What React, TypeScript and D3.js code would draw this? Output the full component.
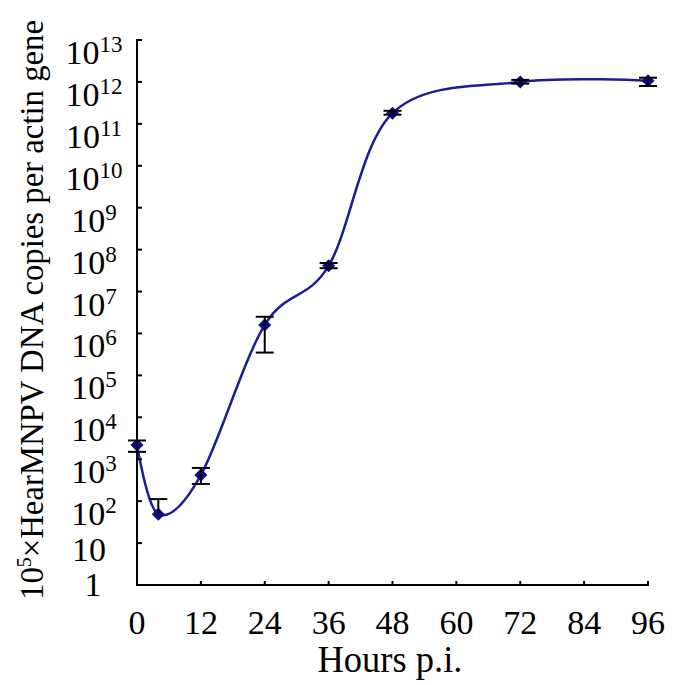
import React from "react";
import * as d3 from "d3";

const hours = [0, 4, 12, 24, 36, 48, 72, 96];
const copies = [2200, 49, 420, 1.6e6, 4.1e7, 1.8e11, 1.0e12, 1.07e12];
const errHigh = [2800, 112, 620, 2.5e6, 4.8e7, 2.05e11, 1.12e12, 1.26e12];
const errLow = [1500, 49, 257, 3.5e5, 3.6e7, 1.65e11, 9.1e11, 8.0e11];
const xTicks = [0, 12, 24, 36, 48, 60, 72, 84, 96];
const yExponents = [0, 1, 2, 3, 4, 5, 6, 7, 8, 9, 10, 11, 12, 13];

const W = 685;
const H = 685;
const FONT = "'Liberation Serif', 'DejaVu Serif', serif";

export default function App() {
  const x = d3.scaleLinear().domain([0, 96]).range([137, 648]);
  const y = d3.scaleLog().domain([1, 1e13]).range([585, 40]);

  const pts = hours.map((h, i) => [x(h), y(copies[i])] as [number, number]);
  const line = d3.line().curve(d3.curveCardinal.tension(0))(pts) || "";

  const lineColor = "#1c1c96";
  const markerColor = "#0a0a8a";

  return (
    <svg width={W} height={H} style={{ position: "absolute", left: 0, top: 0, background: "#fff" }}>
      {/* curve */}
      <path d={line} fill="none" stroke={lineColor} strokeWidth={2.5} />
      {/* markers */}
      {pts.map(([px, py], i) => (
        <path
          key={"m" + i}
          d={`M${px},${py - 6.5}L${px + 6.5},${py}L${px},${py + 6.5}L${px - 6.5},${py}Z`}
          fill={markerColor}
        />
      ))}
      {/* error bars */}
      {hours.map((h, i) => {
        const cx = x(h);
        const yh = y(errHigh[i]);
        const yl = y(errLow[i]);
        return (
          <g key={"e" + i} stroke="#000" strokeWidth={2}>
            <line x1={cx} x2={cx} y1={yh} y2={yl} />
            <line x1={cx - 9} x2={cx + 9} y1={yh} y2={yh} />
            {errLow[i] < copies[i] && <line x1={cx - 9} x2={cx + 9} y1={yl} y2={yl} />}
          </g>
        );
      })}
      {/* axes */}
      <line x1={137} x2={137} y1={39} y2={586} stroke="#000" strokeWidth={2} />
      <line x1={136} x2={649} y1={585} y2={585} stroke="#000" strokeWidth={2} />
      {yExponents.map((e) => (
        <line key={"yt" + e} x1={137} x2={142} y1={y(Math.pow(10, e))} y2={y(Math.pow(10, e))} stroke="#000" strokeWidth={2} />
      ))}
      {xTicks.map((t) => (
        <line key={"xt" + t} x1={x(t)} x2={x(t)} y1={585} y2={581} stroke="#000" strokeWidth={2} />
      ))}
      {/* y tick labels */}
      {yExponents.map((e) => {
        const ty = y(Math.pow(10, e));
        if (e === 0)
          return (
            <text key={"yl" + e} x={93} y={ty + 11} fontFamily={FONT} fontSize={34} textAnchor="middle">
              1
            </text>
          );
        if (e === 1)
          return (
            <text key={"yl" + e} x={89} y={ty + 18} fontFamily={FONT} fontSize={34} textAnchor="middle">
              10
            </text>
          );
        return (
          <text key={"yl" + e} x={94} y={ty + 24} fontFamily={FONT} fontSize={34} textAnchor="middle">
            10
            <tspan dy={-12} fontSize={23}>
              {e}
            </tspan>
          </text>
        );
      })}
      {/* x tick labels */}
      {xTicks.map((t) => (
        <text key={"xl" + t} x={x(t)} y={634} fontFamily={FONT} fontSize={34} textAnchor="middle">
          {t}
        </text>
      ))}
      {/* axis titles */}
      <text x={390} y={672} fontFamily={FONT} fontSize={37} textAnchor="middle" textLength={145} lengthAdjust="spacingAndGlyphs">
        Hours p.i.
      </text>
      <text
        transform="translate(43,310) rotate(-90)"
        fontFamily={FONT}
        fontSize={33}
        textAnchor="middle"
        textLength={580}
        lengthAdjust="spacingAndGlyphs"
      >
        10<tspan dy={-12} fontSize={20}>5</tspan>
        <tspan dy={12}>×HearMNPV DNA copies per actin gene</tspan>
      </text>
    </svg>
  );
}
